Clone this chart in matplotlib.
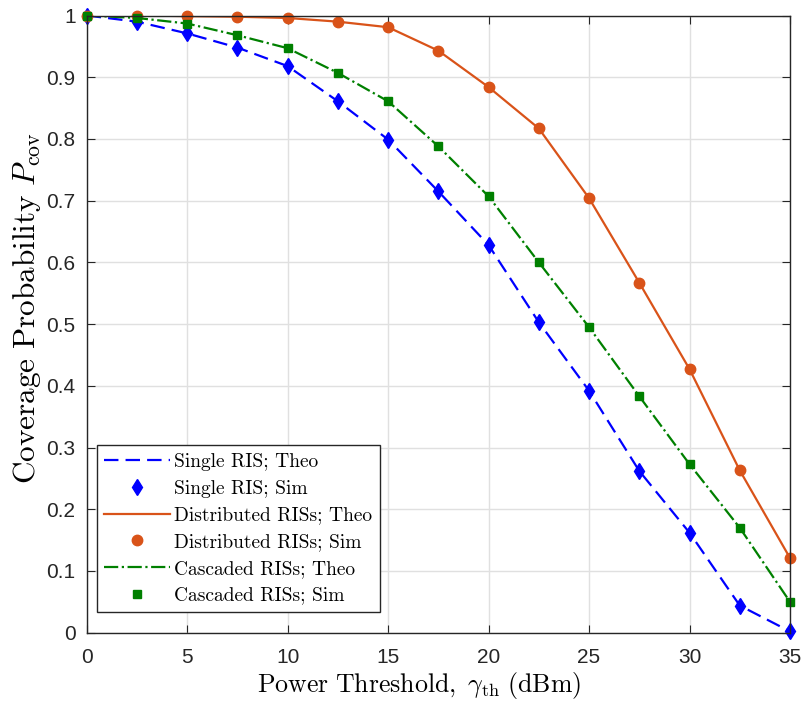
import matplotlib
matplotlib.use('Agg')
import matplotlib.pyplot as plt

plt.rcParams['mathtext.fontset'] = 'cm'
plt.rcParams['font.family'] = ['Liberation Sans', 'DejaVu Sans']

thresholds = [0, 2.5, 5, 7.5, 10, 12.5, 15, 17.5, 20, 22.5, 25, 27.5, 30, 32.5, 35]
single_ris = [1.0, 0.99, 0.971, 0.948, 0.918, 0.861, 0.799, 0.715, 0.628, 0.503,
              0.392, 0.262, 0.162, 0.044, 0.002]
distributed_ris = [1.0, 1.0, 0.999, 0.998, 0.996, 0.99, 0.981, 0.943, 0.884, 0.817,
                   0.704, 0.567, 0.427, 0.263, 0.121]
cascaded_ris = [1.0, 0.996, 0.987, 0.968, 0.947, 0.907, 0.861, 0.788, 0.707, 0.600,
                0.495, 0.383, 0.273, 0.170, 0.050]

blue = '#0000ff'
orange = '#d95319'
green = '#008000'
serif = 'cmr10'

fig = plt.figure(figsize=(8.04, 7.01), dpi=100)
ax = fig.add_axes([86.7 / 804, 1 - 632.7 / 701, (790 - 86.7) / 804, (632.7 - 15.5) / 701])

ax.plot(thresholds, single_ris, '--', color=blue, lw=1.6, dashes=(6.5, 3.2), label='Single RIS; Theo')
ax.plot(thresholds, single_ris, 'd', color=blue, ms=8.5, ls='none', clip_on=False, label='Single RIS; Sim')
ax.plot(thresholds, distributed_ris, '-', color=orange, lw=1.6, label='Distributed RISs; Theo')
ax.plot(thresholds, distributed_ris, 'o', color=orange, ms=7.5, ls='none', clip_on=False,
        label='Distributed RISs; Sim')
ax.plot(thresholds, cascaded_ris, '-.', color=green, lw=1.6, label='Cascaded RISs; Theo')
ax.plot(thresholds, cascaded_ris, 's', color=green, ms=6, ls='none', clip_on=False,
        label='Cascaded RISs; Sim')

ax.set_xlim(0, 35)
ax.set_ylim(0, 1)
ax.set_xticks(range(0, 36, 5))
ax.set_yticks([i / 10 for i in range(11)])
ax.set_yticklabels(['0', '0.1', '0.2', '0.3', '0.4', '0.5', '0.6', '0.7', '0.8', '0.9', '1'])
ax.grid(True, color='#e0e0e0', lw=1)
ax.set_axisbelow(True)
ax.tick_params(direction='in', length=6, labelsize=15, colors='#262626', top=True, right=True)
ax.tick_params(axis='x', pad=11)
ax.tick_params(axis='y', pad=8)
for s in ax.spines.values():
    s.set_color('#262626')
    s.set_linewidth(1.0)

ax.set_xlabel(r'$\mathrm{Power\ Threshold,}\ \gamma_{\rm th}\ \mathrm{(dBm)}$', fontsize=18.6)
ax.xaxis.set_label_coords(0.4725, -0.060)
ax.set_ylabel(r'$\mathrm{Coverage\ Probability}\ P_{\rm cov}$', fontsize=22.5)
ax.yaxis.set_label_coords(-0.062, 0.526)

leg = ax.legend(loc='lower left', bbox_to_anchor=(0.014, 0.033), fancybox=False, framealpha=1,
                edgecolor='#262626', prop={'family': serif, 'size': 14}, handlelength=3.4,
                labelspacing=0.45, borderpad=0.4, handletextpad=0.2, borderaxespad=0)
leg.get_frame().set_linewidth(1.0)

fig.savefig('out.png', dpi=100)
